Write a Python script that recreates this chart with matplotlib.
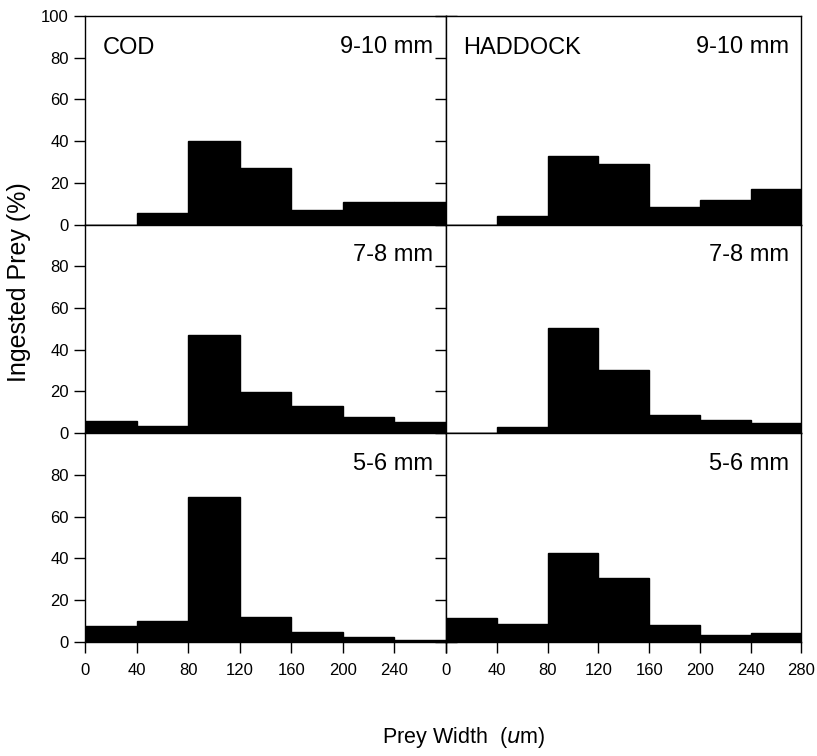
import matplotlib
matplotlib.use("Agg")
import matplotlib.pyplot as plt

plt.rcParams['font.family'] = ['Liberation Sans', 'DejaVu Sans']

# bin edges of prey width (um)
bin_left = [0, 40, 80, 120, 160, 200, 240]
bin_width = 40

# ingested prey (%) per bin, rows top to bottom
cod_9_10 = [0, 5.3, 40, 27, 7.2, 10.7, 10.8]
cod_7_8 = [5.9, 3.5, 47.2, 19.7, 13, 7.8, 5.6]
cod_5_6 = [7.5, 9.9, 69.4, 12, 4.8, 2.4, 1.1]

had_9_10 = [0, 4, 32.7, 28.8, 8.3, 11.9, 16.8]
had_7_8 = [0, 3.1, 50.6, 30.2, 8.9, 6.4, 4.8]
had_5_6 = [11.2, 8.6, 42.7, 30.7, 8.3, 3.5, 4.3]

size_labels = ['9-10 mm', '7-8 mm', '5-6 mm']
cod_rows = [cod_9_10, cod_7_8, cod_5_6]
had_rows = [had_9_10, had_7_8, had_5_6]

fig = plt.figure(figsize=(8.17, 7.56), dpi=100)

left0, right0 = 0.104, 0.546
w_left, w_right = 0.442, 0.435
top, bottom = 0.979, 0.151
h = (top - bottom) / 3

for col, (rows, name) in enumerate([(cod_rows, 'COD'), (had_rows, 'HADDOCK')]):
    for r, vals in enumerate(rows):
        x0 = left0 if col == 0 else right0
        w = w_left if col == 0 else w_right
        ax = fig.add_axes([x0, top - (r + 1) * h, w, h])
        ax.bar(bin_left, vals, width=bin_width, align='edge', color='black', edgecolor='black')
        ax.set_xlim(0, 280)
        ax.set_ylim(0, 100)
        ax.set_xticks([0, 40, 80, 120, 160, 200, 240, 280])
        if r == 0:
            ax.set_yticks([0, 20, 40, 60, 80, 100])
        else:
            ax.set_yticks([0, 20, 40, 60, 80])
        ax.tick_params(axis='both', direction='out', length=8, width=1, labelsize=12)
        ax.tick_params(axis='x', pad=7)
        if col == 0:
            ax.tick_params(axis='y', right=True)
        else:
            ax.tick_params(axis='y', labelleft=False)
        if r < 2:
            ax.tick_params(axis='x', bottom=False, labelbottom=False)
        elif col == 0:
            ax.set_xticklabels(['0', '40', '80', '120', '160', '200', '240', ''])
        for s in ax.spines.values():
            s.set_linewidth(1)
        ax.text(0.965, 0.905, size_labels[r], transform=ax.transAxes,
                ha='right', va='top', fontsize=17)
        if r == 0:
            ax.text(0.048, 0.9, name, transform=ax.transAxes,
                    ha='left', va='top', fontsize=17)

fig.text(0.0227, 0.627, 'Ingested Prey (%)', rotation=90, ha='center', va='center', fontsize=18)
fig.text(0.568, 0.024, r'Prey Width  ($\mathit{u}$m)', ha='center', va='center', fontsize=15.5)

fig.savefig('out.png', dpi=100)
